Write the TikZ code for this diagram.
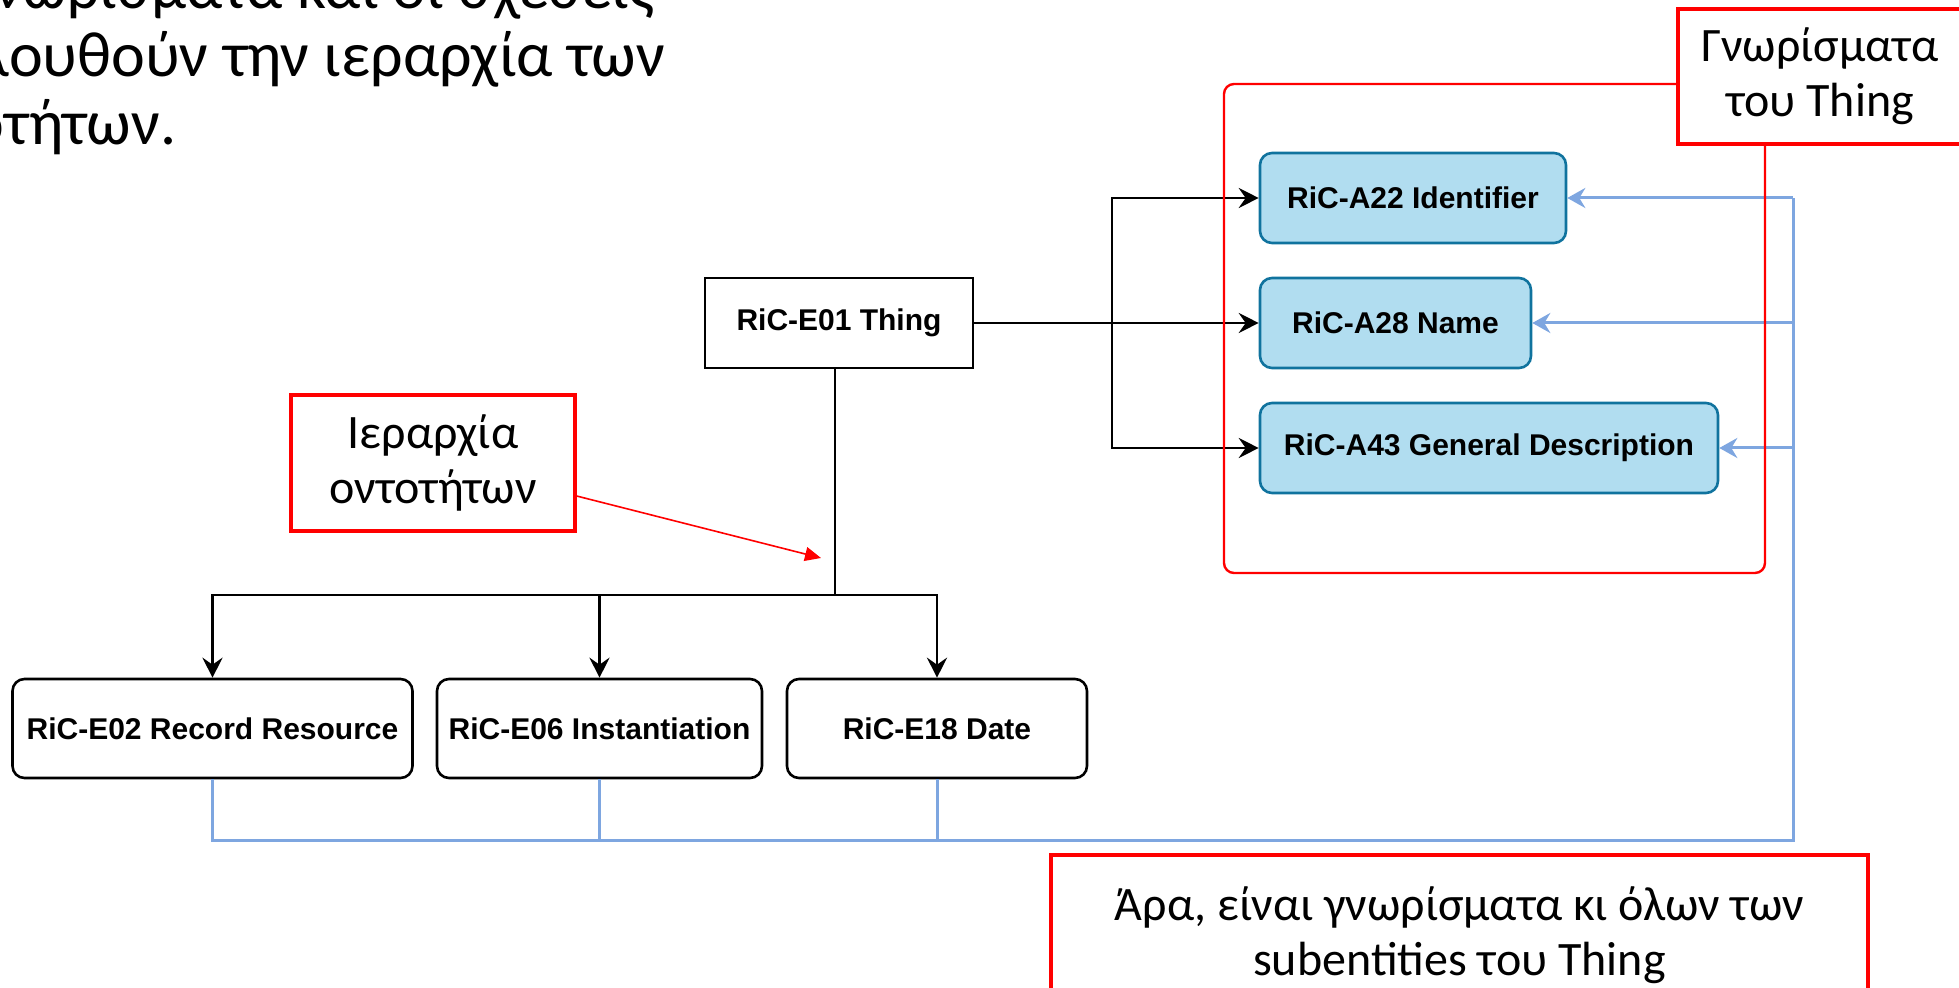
\documentclass[tikz,border=0pt]{standalone}
\usepackage{fontspec}
\setmainfont{Carlito}
\newfontfamily\ricfont{Liberation Sans}
\usepackage{tikz}
\usetikzlibrary{arrows.meta}
\definecolor{attrfill}{HTML}{B1DDF0}
\definecolor{attrdraw}{HTML}{10739E}
\definecolor{busblue}{HTML}{7EA6E0}
\definecolor{notered}{HTML}{FF0000}

\begin{document}
\begin{tikzpicture}[x=0.5pt, y=-0.5pt,
  entity/.style={draw=black, line width=1.3pt, fill=white, inner sep=0pt,
    minimum height=45pt, font=\ricfont\bfseries\fontsize{15}{17}\selectfont},
  subentity/.style={entity, rounded corners=6pt, minimum height=49.5pt},
  attribute/.style={entity, draw=attrdraw, fill=attrfill, rounded corners=6pt},
  remark/.style={draw=notered, line width=1.6pt, fill=white, inner sep=0pt,
    align=center, font=\fontsize{24}{27.5}\selectfont},
  introline/.style={anchor=base west, inner sep=0pt, font=\fontsize{32}{34}\selectfont},
  haslink/.style={-{Stealth[length=10pt,width=10pt,inset=3.5pt]}, line width=1.4pt},
  inherit/.style={haslink},
  busline/.style={draw=busblue, line width=1.5pt},
  busarrow/.style={busline, -{Stealth[length=9pt,width=10pt,inset=3pt]}},
  pointer/.style={draw=notered, line width=0.8pt, -{Triangle[length=8pt,width=7pt]}}
]
\useasboundingbox (0,0) rectangle (1959,988);
% intro text
\node[introline] (intro1) at (-117,9) {Τα γνωρίσματα και οι σχέσεις};
\node[introline] (intro2) at (-117,77) {ακολουθούν την ιεραρχία των};
\node[introline] (intro3) at (-117,145) {οντοτήτων.};
% entities
\node[entity, minimum width=134pt] (thing) at (839,323) {RiC-E01 Thing};
\node[subentity, minimum width=200pt] (rec) at (212.5,728.5) {RiC-E02 Record Resource};
\node[subentity, minimum width=162.5pt] (inst) at (599.5,728.5) {RiC-E06 Instantiation};
\node[subentity, minimum width=150pt] (date) at (937,728.5) {RiC-E18 Date};
% attributes
\node[attribute, minimum width=153pt] (ident) at (1413,198) {RiC-A22 Identifier};
\node[attribute, minimum width=135.5pt] (name) at (1395.5,323) {RiC-A28 Name};
\node[attribute, minimum width=229pt] (desc) at (1489,448) {RiC-A43 General Description};
\coordinate (fork) at (1112,323);
\coordinate (split) at (835,595);
\coordinate (bus) at (1793,840);
\coordinate (tip) at (821,558);
% hierarchy
\draw[line width=1.4pt] (split |- thing.south) -- (split);
\draw[inherit] (split) -| (rec.north);
\draw[inherit] (inst.north |- split) -- (inst.north);
\draw[inherit] (split) -| (date.north);
% attributes of Thing
\draw[haslink] (thing.east) -- (name.west);
\draw[haslink] (fork) |- (ident.west);
\draw[haslink] (fork) |- (desc.west);
% inherited attributes
\draw[busline] (rec.south) |- (bus) -- (bus |- ident.east);
\draw[busline] (inst.south) -- (inst.south |- bus);
\draw[busline] (date.south) -- (date.south |- bus);
\draw[busarrow] (bus |- ident.east) -- (ident.east);
\draw[busarrow] (bus |- name.east) -- (name.east);
\draw[busarrow] (bus |- desc.east) -- (desc.east);
% notes
\draw[draw=notered, line width=1.2pt, rounded corners=5pt] (1224,84) rectangle (1765,573);
\node[remark, minimum width=142pt, minimum height=67.5pt] (attrnote) at (1820,76.5) {Γνωρίσματα\\του Thing};
\node[remark, minimum width=142pt, minimum height=68pt] (hiernote) at (433,463) {Ιεραρχία\\οντοτήτων};
\node[remark, minimum width=408.5pt, minimum height=80pt] (subnote) at (1459.5,935) {Άρα, είναι γνωρίσματα κι όλων των\\subentities του Thing};
\draw[pointer] ([yshift=-16.5pt]hiernote.east) -- (tip);
\end{tikzpicture}
\end{document}
